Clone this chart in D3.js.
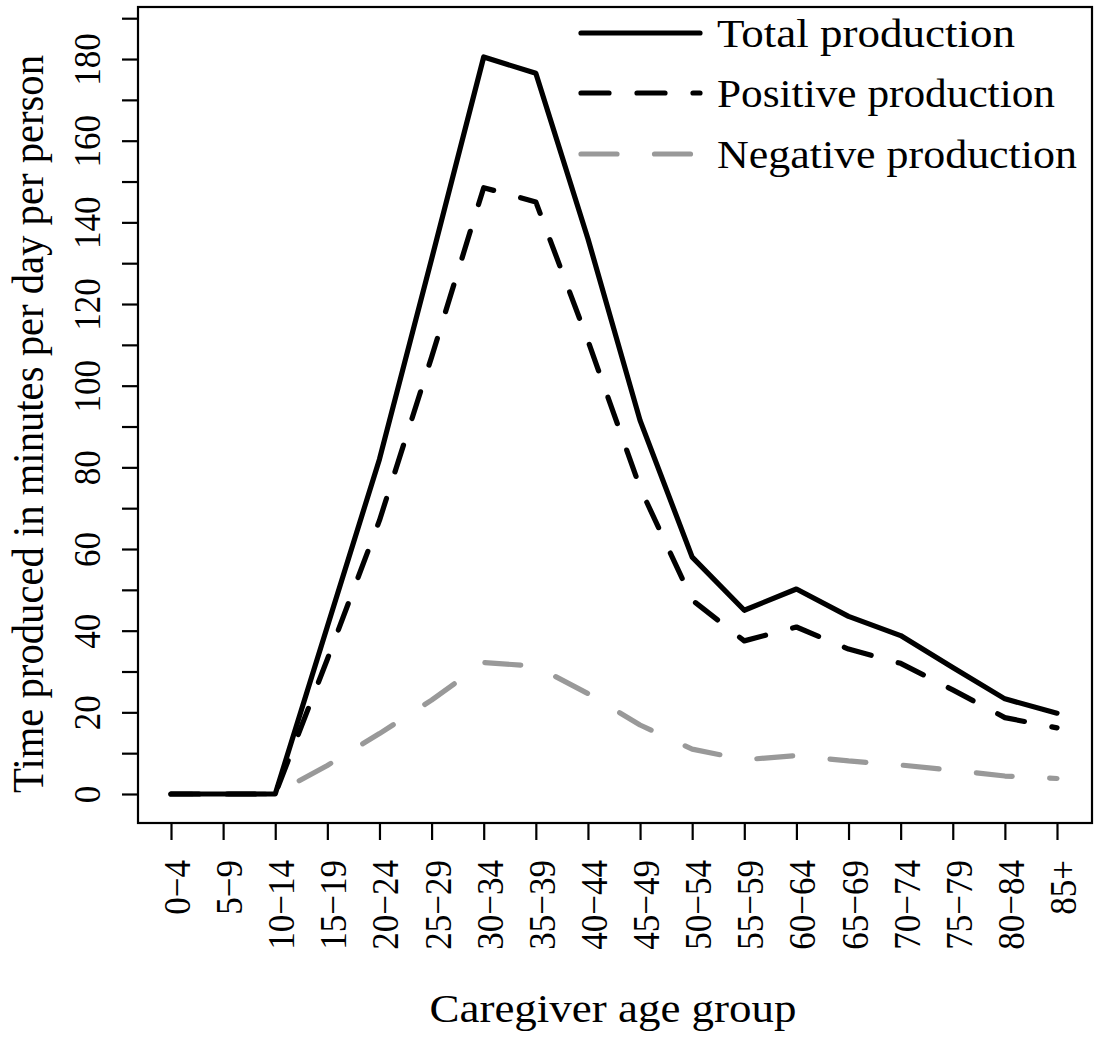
<!DOCTYPE html>
<html>
<head>
<meta charset="utf-8">
<script src="https://cdn.jsdelivr.net/npm/d3@7"></script>
<style>
  html, body { margin: 0; padding: 0; background: #fff; }
  svg { display: block; }
  text { fill: #000; }
</style>
</head>
<body>
<svg id="chart" width="1095" height="1038"></svg>
<script>
// ---- data ----
const categories = ["0\u22124","5\u22129","10\u221214","15\u221219","20\u221224","25\u221229","30\u221234","35\u221239","40\u221244","45\u221249","50\u221254","55\u221259","60\u221264","65\u221269","70\u221274","75\u221279","80\u221284","85+"];
const totalProduction    = [0, 0, 0, 41, 82, 131, 180.5, 176.5, 136, 91.5, 58, 45, 50.2, 43.5, 38.8, 31, 23.3, 19.8];
const positiveProduction = [0, 0, 0, 33, 67, 107, 148.5, 145, 111, 75, 47.5, 37.5, 40.9, 35.5, 32, 25.5, 18.7, 16.2];
const negativeProduction = [0, 0, 0, 7, 14.8, 23, 32.2, 31.3, 24.6, 16.9, 11, 8.4, 9.4, 8.1, 7.1, 5.8, 4.4, 3.8];
const yTickValues = [0,10,20,30,40,50,60,70,80,90,100,110,120,130,140,150,160,170,180,190];
const seriesNames = ["Total production", "Positive production", "Negative production"];
const xTitle = "Caregiver age group";
const yTitle = "Time produced in minutes per day per person";

const FONT = '"Liberation Serif", "Times New Roman", serif';

// ---- layout ----
const svg = d3.select("#chart").style("font-family", FONT);
const box = {left: 138, right: 1092, top: 7, bottom: 823};
const x = d3.scalePoint().domain(categories).range([171, 1057]);
const y = d3.scaleLinear().domain([0, 190]).range([794, 18.2]);
const hs = 1.11; // horizontal stretch of glyph height for rotated text

const styles = [
  {color: "#000", dash: null,      offset: 0,    data: totalProduction},
  {color: "#000", dash: "28,28",   offset: 0,    data: positiveProduction},
  {color: "#999", dash: "36,37.5", offset: 15.4, data: negativeProduction}
];

// box
svg.append("rect")
  .attr("x", box.left).attr("y", box.top)
  .attr("width", box.right - box.left).attr("height", box.bottom - box.top)
  .attr("fill", "none").attr("stroke", "#000").attr("stroke-width", 2.2);

// y axis
const yAxis = svg.append("g").attr("transform", `translate(${box.left},0)`)
  .call(d3.axisLeft(y).tickValues(yTickValues).tickSize(16)
    .tickFormat(d => d % 20 === 0 ? d : ""));
yAxis.attr("font-family", null).attr("font-size", null);
yAxis.select(".domain").remove();
yAxis.selectAll(".tick line").attr("stroke", "#000").attr("stroke-width", 2.2);
yAxis.selectAll(".tick text")
  .attr("transform", `rotate(-90) scale(1,${hs})`)
  .attr("x", 0).attr("y", -38 / hs).attr("dy", 0)
  .attr("text-anchor", "middle")
  .style("font-size", "35px").style("font-family", FONT);

// x axis
const xAxis = svg.append("g").attr("transform", `translate(0,${box.bottom})`)
  .call(d3.axisBottom(x).tickSize(17));
xAxis.attr("font-family", null).attr("font-size", null);
xAxis.select(".domain").remove();
xAxis.selectAll(".tick line").attr("stroke", "#000").attr("stroke-width", 2.2);
xAxis.selectAll(".tick text")
  .attr("transform", `rotate(-90) scale(1,${hs})`)
  .attr("x", -37).attr("y", 18.5 / hs).attr("dy", 0)
  .attr("text-anchor", "end")
  .style("font-size", "35px").style("font-family", FONT);

// lines (negative first, positive on top)
const line = d3.line().x((d, i) => x(categories[i])).y(d => y(d));
[2, 0, 1].forEach(k => {
  const s = styles[k];
  svg.append("path")
    .datum(s.data)
    .attr("d", line)
    .attr("fill", "none")
    .attr("stroke", s.color)
    .attr("stroke-width", 5.2)
    .attr("stroke-linecap", "round")
    .attr("stroke-linejoin", "round")
    .attr("stroke-dasharray", s.dash)
    .attr("stroke-dashoffset", s.offset);
});

// legend
const legendY = [33, 93, 154];
const legendTextX = 717;
const legendTextLen = [298, 338, 360];
seriesNames.forEach((name, i) => {
  svg.append("line")
    .attr("x1", 581).attr("x2", 700)
    .attr("y1", legendY[i]).attr("y2", legendY[i])
    .attr("stroke", styles[i].color)
    .attr("stroke-width", 5.2)
    .attr("stroke-linecap", "round")
    .attr("stroke-dasharray", styles[i].dash);
  svg.append("text")
    .attr("x", legendTextX).attr("y", legendY[i] + 14)
    .attr("textLength", legendTextLen[i])
    .attr("lengthAdjust", "spacingAndGlyphs")
    .style("font-size", "40px")
    .text(name);
});

// axis titles
svg.append("text")
  .attr("x", 613).attr("y", 1022)
  .attr("text-anchor", "middle")
  .attr("textLength", 367)
  .attr("lengthAdjust", "spacingAndGlyphs")
  .style("font-size", "40px")
  .text(xTitle);

svg.append("text")
  .attr("transform", `translate(43,424) rotate(-90) scale(1,${hs})`)
  .attr("text-anchor", "middle")
  .attr("textLength", 738)
  .attr("lengthAdjust", "spacingAndGlyphs")
  .style("font-size", "40px")
  .text(yTitle);
</script>
</body>
</html>
